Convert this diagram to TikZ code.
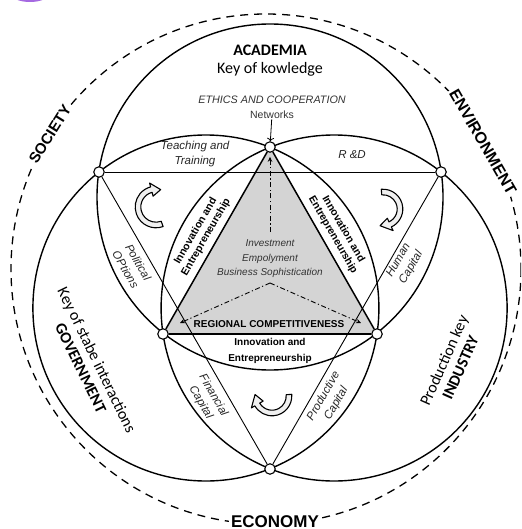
\documentclass[tikz,border=0pt]{standalone}
\usepackage{fontspec}
\setmainfont{Liberation Sans}
\newfontfamily\calib{Carlito}
\usetikzlibrary{positioning, calc, arrows.meta}
\definecolor{blob}{RGB}{165,105,225}

% hollow turning arrow: centre, mid radius, start angle, end angle, tip angle
\newcommand\turnarrow[5]{%
	\draw[turn] ($(#1)+(#3:#2+2.8)$) arc[start angle=#3, end angle=#4, radius=#2+2.8]
		-- ($(#1)+(#4:#2+6.8)$) -- ($(#1)+(#5:#2)$) -- ($(#1)+(#4:#2-6.8)$)
		-- ($(#1)+(#4:#2-2.8)$) arc[start angle=#4, end angle=#3, radius=#2-2.8] -- cycle;}

\begin{document}
\begin{tikzpicture}[x=1pt, y=-1pt,
	ring/.style={line width=1.4pt},
	edge/.style={line width=0.9pt},
	side/.style={line width=1.5pt},
	junc/.style={circle, draw, fill=white, line width=1.1pt, minimum size=10.5pt, inner sep=0pt},
	sector/.style={font=\bfseries\fontsize{15}{17}\selectfont, fill=white, inner sep=2pt},
	actor/.style={font=\calib\fontsize{16}{18}\selectfont, align=center},
	ital/.style={font=\itshape\fontsize{11.5}{14.5}\selectfont, align=center, text=black!85},
	innov/.style={font=\bfseries\fontsize{10.5}{12}\selectfont, align=center},
	flow/.style={line width=0.9pt, dash pattern=on 5pt off 2.5pt on 1.2pt off 2.5pt, -{Stealth[length=5pt, width=4.5pt]}},
	turn/.style={draw, line width=1.1pt, fill=black!6, line join=round},
	]
		\useasboundingbox (0,0) rectangle (521,529);
		\clip (0,0) rectangle (521,529);
		\fill[blob] (30,-7) ellipse[x radius=20, y radius=9];

		%Points
		\coordinate (T)  at (270,147);
		\coordinate (L)  at (163,334);
		\coordinate (R)  at (377,334);
		\coordinate (UL) at (99,172);
		\coordinate (UR) at (441,172);
		\coordinate (B)  at (270,469);

		%Circles
		\fill[black!17] (T) -- (L) -- (R) -- cycle;
		\draw[ring] (270,197) circle[radius=173];
		\draw[ring] (205.9,308) circle[radius=173];
		\draw[ring] (334.1,308) circle[radius=173];
		\draw[line width=1.3pt, dash pattern=on 8pt off 6pt] (266,269) circle[radius=255];

		%Nodes
		\node[junc] (top) at (T)  {};
		\node[junc] (ll)  at (L)  {};
		\node[junc] (lr)  at (R)  {};
		\node[junc] (ul)  at (UL) {};
		\node[junc] (ur)  at (UR) {};
		\node[junc] (bot) at (B)  {};

		%Lines
		\draw[side] (top) -- (ll);
		\draw[side] (ll) -- (lr);
		\draw[side] (lr) -- (top);
		\draw[edge] (ul) -- (ur);
		\draw[edge] (ul) -- (bot);
		\draw[edge] (ur) -- (bot);

		%Labels
		\node[font=\calib\bfseries\fontsize{16}{18}\selectfont] (academia) at (270,50) {ACADEMIA};
		\node[actor, inner sep=0pt] (knowledge) [below=3pt of academia] {Key of kowledge};
		\node[font=\itshape\fontsize{10.8}{12}\selectfont, text=black!80] (ethics) at (272,100) {ETHICS AND COOPERATION};
		\node[font=\fontsize{10.5}{12}\selectfont, text=black!80, inner sep=1pt] (networks) [below=2pt of ethics] {Networks};
		\draw[->, line width=0.8pt] (networks) -- (top);

		\node[sector, rotate=58] (society) at (50,134) {SOCIETY};
		\node[sector, rotate=-60, font=\bfseries\fontsize{16}{18}\selectfont] (environment) at (483,142) {ENVIRONMENT};
		\node[sector, font=\bfseries\fontsize{17}{19}\selectfont] (economy) at (275,522) {ECONOMY};

		\node[actor, rotate=-64] (government) at (89,364) {Key of stabe interactions\\{\bfseries GOVERNMENT}};
		\node[actor, rotate=66] (industry) at (452,364) {Production key\\{\bfseries INDUSTRY}};

		\node[ital] (teaching) at (195,154) {Teaching and\\Training};
		\node[ital] (rd) at (352,155) {R \&D};
		\node[ital, rotate=-60] (political) at (132,266) {Political\\OPtions};
		\node[ital, rotate=60] (human) at (405,264) {Human\\Capital};
		\node[ital, rotate=-60] (financial) at (207,399) {Financial\\Capital};
		\node[ital, rotate=60] (productive) at (330,400) {Productive\\Capital};

		\node[innov, rotate=60] (innovl) at (201,234) {Innovation and\\Entrepreneurship};
		\node[innov, rotate=-60] (innovr) at (338,232) {Innovation and\\Entrepreneurship};
		\node[innov, font=\bfseries\fontsize{10}{16}\selectfont] (innovb) at (270,351) {Innovation and\\Entrepreneurship};

		\node[font=\itshape\fontsize{10}{14.5}\selectfont, align=center, text=black!80] (drivers) at (270,259) {Investment\\Empolyment\\Business Sophistication};
		\node[font=\bfseries\fontsize{10}{12}\selectfont] (regional) at (269,324) {REGIONAL COMPETITIVENESS};

		%Flows
		\coordinate (hub)  at (270,283);
		\coordinate (rise) at (270,232);
		\coordinate (cl)   at (180,323);
		\coordinate (cr)   at (361,323);
		\draw[flow, shorten >=4pt] (rise) -- (top);
		\draw[flow] (hub) -- (cl);
		\draw[flow] (hub) -- (cr);

		%Turns
		\turnarrow{156,207}{18}{70}{255}{285}
		\turnarrow{383,209}{17}{-95}{65}{100}
		\turnarrow{272,396}{17}{-5}{150}{185}
	\end{tikzpicture}
\end{document}
